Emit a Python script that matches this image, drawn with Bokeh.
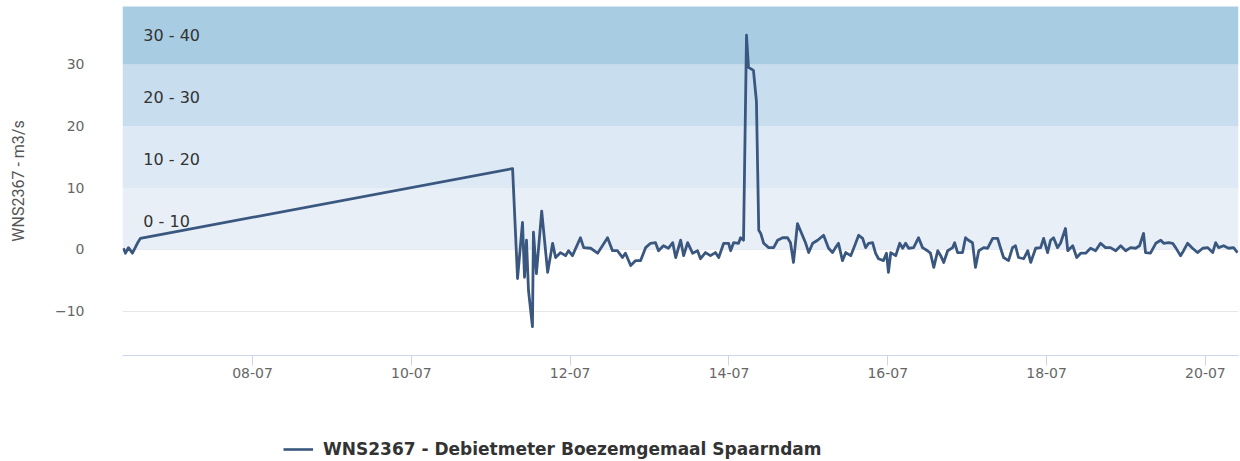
from datetime import datetime, timedelta
from bokeh.plotting import figure
from bokeh.layouts import column
from bokeh.models import (Range1d, BoxAnnotation, Legend, LegendItem, FixedTicker,
                          DaysTicker, DatetimeTickFormatter, ColumnDataSource)
from bokeh.core.properties import value
from bokeh.embed import file_html
from bokeh.resources import INLINE

# ---------------- data ----------------
start = datetime(2023, 7, 6)
# hours after 06-07 00:00
hours = [9.0, 9.6, 10.5, 11.7, 13.2, 14.1, 126.6, 128.1, 129.6, 130.2, 130.8, 131.4,
         132.6, 132.9, 133.8, 135.4, 137.2, 138.7, 139.6, 141.1, 142.6, 143.5, 144.7,
         147.1, 148.1, 150.2, 152.3, 155.3, 156.8, 158.3, 159.8, 160.7, 162.3, 163.8,
         165.3, 166.8, 168.3, 169.8, 170.7, 172.2, 173.7, 175.0, 175.9, 177.4, 178.3,
         179.5, 181.0, 182.5, 183.4, 184.9, 186.4, 187.9, 188.9, 190.4, 191.9, 192.5,
         193.4, 194.9, 195.5, 196.4, 197.3, 197.9, 199.4, 200.3, 201.0, 201.6, 202.5,
         204.0, 205.5, 206.7, 208.2, 209.7, 210.6, 211.5, 212.7, 215.2, 216.1, 217.3,
         218.8, 220.6, 222.1, 223.3, 224.2, 225.1, 226.3, 227.3, 228.8, 229.7, 231.2,
         232.4, 233.3, 234.2, 235.4, 236.3, 237.2, 238.7, 239.6, 240.2, 240.9, 242.4,
         243.6, 244.5, 245.4, 246.3, 247.8, 249.3, 250.5, 252.0, 252.9, 253.9, 255.1,
         256.0, 256.9, 258.1, 259.6, 260.2, 261.1, 262.6, 263.5, 264.4, 265.6, 266.5,
         267.5, 269.0, 270.2, 271.7, 273.2, 274.1, 275.0, 276.5, 277.7, 278.6, 279.5,
         281.1, 282.3, 283.2, 284.7, 286.2, 287.1, 288.3, 289.2, 290.1, 291.3, 292.2,
         293.7, 294.4, 295.9, 297.1, 298.3, 299.8, 301.3, 302.8, 304.3, 305.8, 307.3,
         308.9, 310.4, 311.9, 313.4, 314.9, 316.1, 317.3, 317.9, 319.4, 321.0, 322.5,
         323.4, 324.9, 326.1, 327.0, 328.5, 329.4, 330.6, 332.1, 333.6, 335.2, 336.7,
         338.2, 339.1, 340.0, 341.5, 343.0, 344.5, 345.7]
flow = [0.2, -0.6, 0.3, -0.6, 1.0, 1.8, 13.1, -4.7, 4.4, -4.5, 1.5, -6.6,
        -12.5, 2.8, -3.9, 6.2, -3.7, 1.0, -1.3, -0.5, -1.0, -0.2, -1.0,
        1.9, 0.3, 0.2, -0.6, 1.9, -0.2, -0.2, -1.3, -0.6, -2.6, -1.8,
        -1.8, 0.3, 1.0, 1.1, -0.2, 0.6, 0.2, 1.1, -1.3, 1.5, -1.0,
        1.1, -0.6, -0.2, -1.5, -0.5, -1.0, -0.5, -1.3, 1.0, 1.0, -0.2,
        1.1, 1.0, 1.9, 1.5, 34.7, 29.5, 29.0, 24.0, 3.1, 2.6, 1.0,
        0.3, 0.3, 1.5, 1.9, 1.9, 1.1, -2.1, 4.2, 1.0, -0.5, 1.0,
        1.5, 2.3, 0.2, -0.5, 0.3, 1.0, -1.8, -0.5, -1.0, 0.2, 2.3,
        1.8, 0.3, 1.0, 1.1, -0.6, -1.5, -1.8, -0.6, -3.7, -0.5, -1.0,
        1.0, 0.2, 1.0, 0.2, 0.3, 1.9, 0.3, -0.2, -0.6, -2.9, -0.2,
        -1.0, -2.1, -0.2, 0.3, 1.1, -0.5, -0.5, 1.9, 1.5, 1.1, -2.9,
        -0.2, 0.3, 0.2, 1.8, 1.8, 0.2, -1.3, -1.8, 0.3, 0.6, -1.3,
        -1.5, -0.2, -2.1, 0.2, 0.3, 1.8, -0.5, 1.5, 1.9, 0.3, 1.0,
        3.4, -0.2, 0.6, -1.3, -0.6, -0.6, 0.2, -0.2, 1.0, 0.3, 0.3,
        -0.2, 0.6, -0.2, 0.3, 0.2, 0.6, 2.6, -0.5, -0.6, 1.0, 1.5,
        1.0, 1.1, 1.0, 0.3, -1.0, -0.2, 1.0, 0.2, -0.5, 0.2, 0.3,
        -0.5, 1.1, 0.3, 0.6, 0.2, 0.3, -0.5]

band_lows = [0, 10, 20, 30]
band_highs = [10, 20, 30, 40]
band_labels = ["0 - 10", "10 - 20", "20 - 30", "30 - 40"]
band_colors = ["#e8eff7", "#ddeaf6", "#c8ddee", "#a8cde3"]
y_ticks = [-10, 0, 10, 20, 30]
x_start_h, x_end_h = 8.7, 346.0
y_min, y_max = -17.17, 39.35
series_name = "WNS2367 - Debietmeter Boezemgemaal Spaarndam"
y_title = "WNS2367 - m3/s"
line_color = "#3a5780"

times = [start + timedelta(hours=h) for h in hours]
src = ColumnDataSource(dict(t=times, v=flow))

p = figure(width=1240, height=430, x_axis_type="datetime",
           x_range=Range1d(start + timedelta(hours=x_start_h), start + timedelta(hours=x_end_h)),
           y_range=Range1d(y_min, y_max),
           output_backend="svg", toolbar_location=None,
           min_border_left=122, min_border_right=2, min_border_top=6, min_border_bottom=75)
p.outline_line_color = None
p.background_fill_color = "white"
p.border_fill_color = "white"

# grid
p.xgrid.visible = False
p.ygrid.grid_line_color = "#e6e6e6"
p.ygrid.ticker = FixedTicker(ticks=y_ticks)

# bands
for lo, hi, col in zip(band_lows, band_highs, band_colors):
    p.add_layout(BoxAnnotation(bottom=lo, top=hi, fill_color=col, fill_alpha=1.0,
                               line_color=None, level="underlay"))

# band labels
lab_x = [start + timedelta(hours=x_start_h + 6.3)] * len(band_lows)
lab_y = [lo + 4.6 for lo in band_lows]
p.text(x=lab_x, y=lab_y, text=band_labels, text_font=value("DejaVu Sans"),
       text_font_size="16px", text_color="#333333", text_baseline="middle",
       text_align="left")

# line
r = p.line("t", "v", source=src, line_color=line_color, line_width=2.8,
           line_join="round")

# y axis
p.yaxis.ticker = FixedTicker(ticks=y_ticks)
p.yaxis.axis_line_color = None
p.yaxis.major_tick_line_color = None
p.yaxis.minor_tick_line_color = None
p.yaxis.major_label_standoff = 32
p.yaxis.major_label_text_font = "DejaVu Sans"
p.yaxis.major_label_text_font_size = "14px"
p.yaxis.major_label_text_color = "#666666"
p.yaxis.axis_label = y_title
p.yaxis.axis_label_text_font = "Roboto"
p.yaxis.axis_label_text_font_style = "normal"
p.yaxis.axis_label_text_font_size = "16px"
p.yaxis.axis_label_text_color = "#555555"
p.yaxis.axis_label_standoff = 24

# x axis
p.xaxis.ticker = DaysTicker(days=list(range(2, 32, 2)))
p.xaxis.formatter = DatetimeTickFormatter(days="%d-%m", months="%d-%m", hours="%d-%m")
p.xaxis.axis_line_color = "#ccd6eb"
p.xaxis.major_tick_line_color = "#ccd6eb"
p.xaxis.major_tick_out = 10
p.xaxis.major_tick_in = 0
p.xaxis.minor_tick_line_color = None
p.xaxis.major_label_standoff = 2
p.xaxis.major_label_text_font = "DejaVu Sans"
p.xaxis.major_label_text_font_size = "14px"
p.xaxis.major_label_text_color = "#666666"

# legend in a slim figure below the chart (its frame is aligned with the chart frame)
lf = figure(width=1240, height=31, x_range=Range1d(0, 1), y_range=Range1d(0, 1),
            output_backend="svg", toolbar_location=None,
            min_border_left=0, min_border_right=0, min_border_top=0, min_border_bottom=0)
lf.axis.visible = False
lf.grid.visible = False
lf.outline_line_color = None
lf.border_fill_color = "white"
lr = lf.line(x=[-5, -4], y=[-5, -5], line_color=line_color, line_width=2.6)
legend = Legend(items=[LegendItem(label=series_name, renderers=[lr])],
                location=(161, 2), orientation="horizontal",
                border_line_color=None, background_fill_alpha=0,
                padding=0, margin=0, glyph_width=30, glyph_height=20,
                label_height=20, label_standoff=10, label_text_font="DejaVu Sans",
                label_text_font_style="bold", label_text_font_size="17px",
                label_text_color="#333333")
lf.add_layout(legend, "center")

open("out.html", "w").write(file_html(column(p, lf, spacing=0), INLINE))
